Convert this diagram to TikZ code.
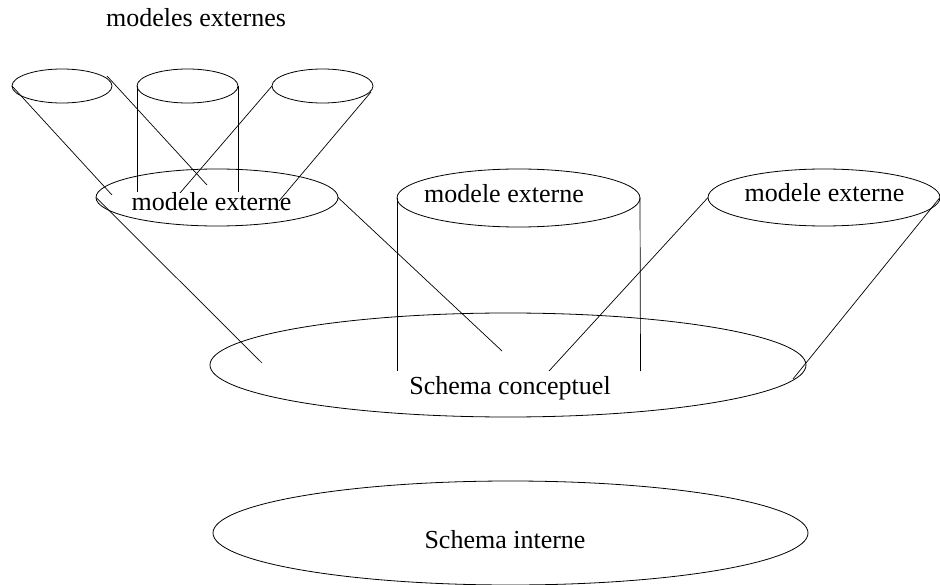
\documentclass[tikz,border=0pt]{standalone}
\usepackage{fontspec}
\setmainfont{Liberation Serif}
\usetikzlibrary{shapes.geometric}
\begin{document}
\begin{tikzpicture}[x=1pt,y=-1pt,
  shell/.style={ellipse,draw,line width=0.8pt,inner sep=0pt,outer sep=0pt},
  lbl/.style={anchor=base,inner sep=0pt,font=\fontsize{26}{30}\selectfont},
  edge/.style={line width=0.7pt}]
\useasboundingbox (0,0) rectangle (940,585);
% title
\node[lbl] (title) at (196,27) {modeles externes};
% small top ellipses
\node[shell,minimum width=100pt,minimum height=34pt] (e1) at (62,86) {};
\node[shell,minimum width=101pt,minimum height=34pt] (e2) at (187.5,86) {};
\node[shell,minimum width=101pt,minimum height=34pt] (e3) at (322.5,86) {};
% external model ellipses
\node[shell,minimum width=242pt,minimum height=57pt] (m1) at (217,197.5) {};
\node[lbl] (t1) at (211.5,211) {modele externe};
\node[shell,minimum width=243pt,minimum height=58pt] (m2) at (518.5,198) {};
\node[lbl] (t2) at (504,203) {modele externe};
\node[shell,minimum width=232pt,minimum height=57pt] (m3) at (824,197.5) {};
\node[lbl] (t3) at (824.5,202) {modele externe};
% conceptual and internal schemas
\node[shell,minimum width=596pt,minimum height=104pt] (sc) at (508,365) {};
\node[lbl] (tsc) at (510,395) {Schema conceptuel};
\node[shell,minimum width=595pt,minimum height=104pt] (si) at (510.5,533) {};
\node[lbl] (tsi) at (505,548) {Schema interne};
% free ends
\coordinate (a1) at (112,195);
\coordinate (s2) at (107,76);
\coordinate (a2) at (207,185);
\coordinate (a3) at (137,192);
\coordinate (a4) at (238,192);
\coordinate (a5) at (180,193);
\coordinate (s6) at (371,92);
\coordinate (a6) at (279,201);
\coordinate (b1) at (262,363);
\coordinate (b2) at (502,351);
\coordinate (b3) at (397,371);
\coordinate (b4) at (640.5,371);
\coordinate (b5) at (549,371);
\coordinate (b6) at (793,379);
% connectors
\draw[edge] (e1.west) -- (a1);
\draw[edge] (s2) -- (a2);
\draw[edge] (e2.west) -- (a3);
\draw[edge] (e2.east) -- (a4);
\draw[edge] (e3.west) -- (a5);
\draw[edge] (s6) -- (a6);
\draw[edge] (m1.west) -- (b1);
\draw[edge] (m1.east) -- (b2);
\draw[edge] (m2.west) -- (b3);
\draw[edge] (m2.east) -- (b4);
\draw[edge] (m3.west) -- (b5);
\draw[edge] (m3.east) -- (b6);
\end{tikzpicture}
\end{document}
